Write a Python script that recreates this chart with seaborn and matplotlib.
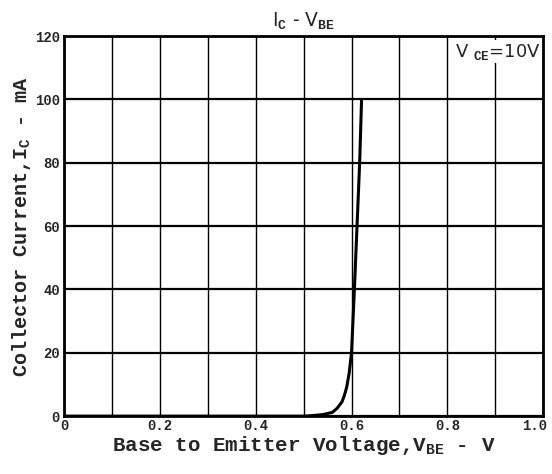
import matplotlib
matplotlib.use("Agg")
import matplotlib.pyplot as plt
import matplotlib.transforms as mtransforms
import pandas as pd
import seaborn as sns

# I_C vs V_BE at V_CE = 10 V
vbe = [0.0, 0.50, 0.52, 0.54, 0.56, 0.57, 0.58, 0.585, 0.59, 0.595, 0.600, 0.606, 0.6115, 0.617, 0.621]
ic = [0.0, 0.0, 0.2, 0.5, 1.2, 2.5, 4.5, 6.5, 9.2, 13.5, 20.0, 40.0, 60.0, 80.0, 100.0]

x_ticks = [0, 0.2, 0.4, 0.6, 0.8, 1.0]
x_labels = ["0", "0.2", "0.4", "0.6", "0.8", "1.0"]
y_ticks = [0, 20, 40, 60, 80, 100, 120]

df = pd.DataFrame({"VBE": vbe, "IC": ic})

sns.set_style("white")
plt.rcParams["font.family"] = ["Liberation Mono", "DejaVu Sans Mono"]
plt.rcParams["font.weight"] = "bold"
plt.rcParams["mathtext.fontset"] = "custom"
plt.rcParams["mathtext.rm"] = "Liberation Mono:bold"
plt.rcParams["mathtext.it"] = "Liberation Mono:bold"

fig = plt.figure(figsize=(5.52, 4.74), dpi=100)
ax = fig.add_axes([0.116, 0.122, 0.868, 0.802])

sns.lineplot(data=df, x="VBE", y="IC", ax=ax, color="black", linewidth=2.2, sort=False)

ax.set_xlim(0, 1.0)
ax.set_ylim(0, 120)
ax.set_xticks(x_ticks)
ax.set_xticklabels(x_labels)
ax.set_xticks([0.1, 0.3, 0.5, 0.7, 0.9], minor=True)
ax.set_yticks(y_ticks)

ax.grid(True, which="major", axis="y", color="black", linewidth=1.6)
ax.grid(True, which="both", axis="x", color="black", linewidth=1.0)
ax.tick_params(axis="both", which="both", length=0, labelsize=10, pad=3)
ax.tick_params(axis="x", pad=2)
for s in ax.spines.values():
    s.set_color("black")
    s.set_linewidth(2.0)

# nudge the last x label inward like the original
lbls = ax.get_xticklabels()
lbls[-1].set_transform(lbls[-1].get_transform() +
                       mtransforms.ScaledTranslation(-6 / 72, 0, fig.dpi_scale_trans))

ax.set_xlabel("Base to Emitter Voltage,V$_{BE}$ - V", fontsize=15, fontweight="bold", labelpad=1)
ax.set_ylabel("Collector Current,I$_C$ - mA", fontsize=14.5, fontweight="bold", labelpad=1)
ax.set_title("I$_C$ - V$_{BE}$", fontsize=13.5, fontweight="normal", pad=7,
             family="DejaVu Sans")
ax.text(0.995, 0.985, "V $_{CE}$=10V", transform=ax.transAxes, ha="right", va="top",
        fontsize=13, fontweight="normal", family="DejaVu Sans",
        bbox=dict(facecolor="white", edgecolor="none", pad=1))

fig.savefig("out.png", dpi=100)
